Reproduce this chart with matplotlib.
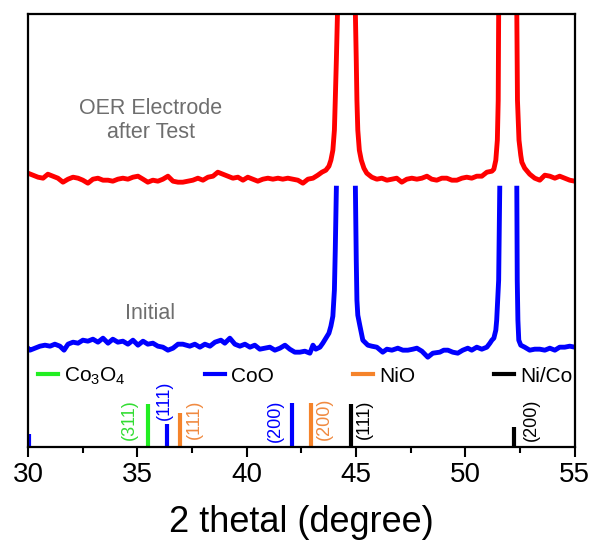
import numpy as np
import matplotlib
matplotlib.use("Agg")
import matplotlib.pyplot as plt
from matplotlib.lines import Line2D

plt.rcParams['font.family'] = ['Liberation Sans', 'DejaVu Sans']
plt.rcParams['mathtext.fontset'] = 'custom'
plt.rcParams['mathtext.rm'] = 'Liberation Sans'
plt.rcParams['mathtext.default'] = 'regular'

# OER electrode after test (red)
red_2theta = [30.00, 30.23, 30.46, 30.69, 30.91, 31.14, 31.37, 31.60, 31.83, 32.06,
              32.29, 32.51, 32.74, 32.97, 33.20, 33.43, 33.66, 33.88, 34.11, 34.34,
              34.57, 34.80, 35.03, 35.26, 35.48, 35.71, 35.94, 36.17, 36.40, 36.63,
              36.86, 37.08, 37.31, 37.54, 37.77, 38.00, 38.23, 38.46, 38.68, 38.91,
              39.14, 39.37, 39.60, 39.83, 40.05, 40.28, 40.51, 40.74, 40.97, 41.20,
              41.43, 41.65, 41.88, 42.11, 42.34, 42.57, 42.80, 43.03, 43.25, 43.44,
              43.62, 43.76, 43.85, 43.94, 44.01, 44.05, 44.10, 44.15, 44.56,
              44.97, 45.01, 45.04, 45.08, 45.15, 45.24, 45.36, 45.49, 45.72, 45.95,
              46.18, 46.41, 46.64, 46.86, 47.09, 47.32, 47.55, 47.78, 48.01, 48.24,
              48.46, 48.69, 48.92, 49.15, 49.38, 49.61, 49.84, 50.06, 50.29, 50.52,
              50.75, 50.98, 51.21, 51.30, 51.39, 51.46, 51.50, 51.52, 51.94,
              52.35, 52.38, 52.45, 52.53, 52.58, 52.71, 52.94, 53.17, 53.40, 53.63,
              53.86, 54.09, 54.31, 54.54, 54.77, 55.00]
red_int = [274, 272, 270, 269, 273, 271, 269, 265, 268, 270,
           269, 267, 264, 268, 269, 267, 267, 266, 268, 269,
           268, 270, 271, 268, 265, 267, 266, 268, 271, 266,
           265, 265, 266, 267, 269, 267, 270, 271, 275, 273,
           271, 269, 270, 267, 270, 268, 266, 268, 269, 268,
           269, 268, 269, 268, 267, 264, 268, 269, 272, 275,
           277, 281, 287, 297, 317, 347, 387, 433, 700,
           433, 387, 347, 317, 297, 287, 279, 274, 270, 268,
           269, 267, 268, 269, 265, 268, 269, 268, 269, 271,
           268, 267, 269, 269, 267, 267, 269, 270, 269, 271,
           271, 275, 276, 278, 287, 307, 347, 433, 700,
           433, 347, 307, 292, 285, 279, 273, 269, 267, 272,
           271, 269, 271, 269, 267, 266]

# initial electrode (blue), peaks cut off at the top
blue_2theta = [30.00, 30.09, 30.32, 30.55, 30.78, 31.01, 31.23, 31.46, 31.65, 31.83,
               32.06, 32.29, 32.51, 32.74, 32.97, 33.20, 33.43, 33.66, 33.88, 34.11,
               34.34, 34.57, 34.80, 35.03, 35.26, 35.48, 35.71, 35.94, 36.17, 36.40,
               36.63, 36.86, 37.08, 37.40, 37.63, 37.86, 38.09, 38.32, 38.55, 38.82,
               39.00, 39.23, 39.46, 39.69, 39.92, 40.15, 40.37, 40.60, 40.83, 41.06,
               41.29, 41.52, 41.75, 41.97, 42.20, 42.43, 42.66, 42.89, 43.03, 43.16,
               43.35, 43.48, 43.62, 43.76, 43.85, 43.94, 44.01, 44.05, 44.10, 44.56,
               44.97, 45.01, 45.04, 45.08, 45.17, 45.31, 45.54, 45.72, 45.95, 46.22,
               46.41, 46.64, 46.91, 47.14, 47.37, 47.60, 47.78, 48.01, 48.28, 48.51,
               48.83, 49.01, 49.20, 49.42, 49.65, 49.88, 50.11, 50.29, 50.52, 50.75,
               50.98, 51.12, 51.21, 51.30, 51.39, 51.43, 51.52, 51.57, 51.94,
               52.35, 52.37, 52.40, 52.44, 52.53, 52.71, 52.94, 53.17, 53.40, 53.63,
               53.86, 54.09, 54.31, 54.54, 54.77, 55.00]
blue_int = [99, 97, 99, 101, 102, 101, 103, 101, 97, 103,
            105, 104, 107, 106, 108, 105, 109, 104, 108, 105,
            106, 103, 107, 102, 106, 103, 104, 101, 100, 97,
            99, 103, 103, 101, 103, 100, 103, 101, 105, 107,
            104, 109, 103, 101, 103, 100, 102, 98, 99, 100,
            97, 99, 102, 98, 95, 95, 96, 94, 102, 98,
            100, 104, 109, 114, 121, 131, 157, 197, 259, np.nan,
            259, 187, 147, 132, 122, 107, 102, 101, 100, 95,
            98, 97, 99, 97, 97, 98, 99, 96, 90, 94,
            95, 97, 97, 95, 94, 97, 99, 97, 100, 98,
            100, 104, 107, 109, 117, 127, 167, 259, np.nan,
            259, 167, 127, 107, 102, 100, 97, 98, 98, 97,
            99, 97, 100, 100, 101, 100]

# reference patterns
ref_phase = ['CoO', 'Co3O4', 'CoO', 'NiO', 'CoO', 'NiO', 'Ni/Co', 'Ni/Co']
ref_2theta = [30.03, 35.47, 36.34, 36.95, 42.07, 42.94, 44.78, 52.23]
ref_height = [13, 43, 23, 34, 44, 44, 43, 20]
ref_hkl = ['', '(311)', '(111)', '(111)', '(200)', '(200)', '(111)', '(200)']

legend_names = ['Co$_3$O$_4$', 'CoO', 'NiO', 'Ni/Co']
phase_colors = {'Co3O4': '#22EE22', 'CoO': '#0000FF', 'NiO': '#F5832A', 'Ni/Co': '#000000'}
label_colors = {'Co3O4': '#33DD33', 'CoO': '#0000FF', 'NiO': '#F08A40', 'Ni/Co': '#000000'}

fig = plt.figure(figsize=(5.95, 5.46), dpi=100)
ax = fig.add_axes([0.047, 0.181, 0.919, 0.793])

ax.plot(red_2theta, red_int, color='#FF0000', lw=3.5)
ax.plot(blue_2theta, blue_int, color='#0000FF', lw=3.5)

# vertical reference bars + hkl labels
label_dx = [0, -0.85, -0.12, 0.64, -0.74, 0.62, 0.58, 0.8]
label_y = [0, 28, 47, 28, 26, 28, 28, 27]
for i in range(len(ref_2theta)):
    ph = ref_phase[i]
    ax.vlines(ref_2theta[i], 0, ref_height[i], color=phase_colors[ph], lw=3)
    if ref_hkl[i]:
        ax.text(ref_2theta[i] + label_dx[i], label_y[i], ref_hkl[i], rotation=90,
                ha='center', va='center', fontsize=13, color=label_colors[ph])

handles = [Line2D([], [], color=phase_colors[p], lw=3) for p in ['Co3O4', 'CoO', 'NiO', 'Ni/Co']]
ax.legend(handles, legend_names, loc='center left', bbox_to_anchor=(0.018, 0.164),
          ncol=4, frameon=False, fontsize=15, handlelength=0.95, handletextpad=0.3,
          columnspacing=3.8, borderaxespad=0, borderpad=0)

ax.text(35.62, 327, 'OER Electrode\nafter Test', ha='center', va='center',
        fontsize=15.5, color='#6E6E6E', linespacing=1.2)
ax.text(35.58, 134, 'Initial', ha='center', va='center', fontsize=15.5, color='#6E6E6E')

ax.set_xlim(30, 55)
ax.set_ylim(0, 433)
ax.set_xticks([30, 35, 40, 45, 50, 55])
ax.set_xticks(np.arange(30, 55.1, 2.5), minor=True)
ax.set_yticks([])
ax.tick_params(axis='x', which='major', length=7, width=1.5, labelsize=20, pad=4, direction='out')
ax.tick_params(axis='x', which='minor', length=4, width=1.5, direction='out')
for s in ax.spines.values():
    s.set_linewidth(1.6)
ax.set_xlabel('2 thetal (degree)', fontsize=26, labelpad=12)

fig.savefig('out.png', dpi=100)
